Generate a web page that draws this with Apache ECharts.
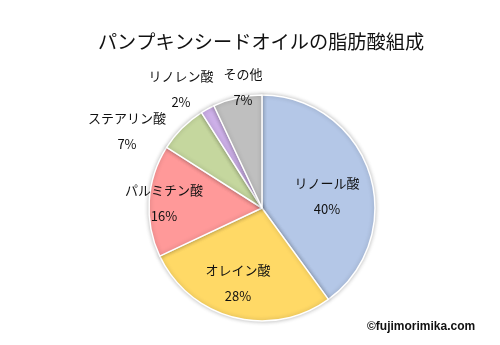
<!DOCTYPE html>
<html>
<head>
<meta charset="utf-8">
<script src="https://cdn.jsdelivr.net/npm/echarts@6/dist/echarts.min.js"></script>
<style>
  html, body { margin: 0; padding: 0; background: #fff; }
  #chart { width: 500px; height: 345px; }
</style>
</head>
<body>
<div id="chart"></div>
<script>
// Fatty acid composition of pumpkin seed oil (%)
const names = ['リノール酸', 'オレイン酸', 'パルミチン酸', 'ステアリン酸', 'リノレン酸', 'その他'];
const shares = [40, 28, 16, 7, 2, 7];
const sliceColors = ['#B4C7E7', '#FFD966', '#FF9999', '#C5D79E', '#CDB0E8', '#BFBFBF'];

// Centre point of each label block (name above, percentage below)
const labelSpots = [[327, 196], [238, 283], [164, 203], [127, 131], [181, 89], [243, 87]];

const chart = echarts.init(document.getElementById('chart'), null, { renderer: 'canvas' });
const FONT = '"Noto Sans CJK JP", "Noto Sans", sans-serif';

chart.setOption({
  animation: false,
  backgroundColor: '#ffffff',
  title: {
    text: 'パンプキンシードオイルの脂肪酸組成',
    left: 256,
    top: 27,
    textAlign: 'center',
    textStyle: { fontFamily: FONT, fontSize: 19.2, fontWeight: 'normal', color: '#111' }
  },
  graphic: [{
    type: 'text',
    left: 367,
    top: 321,
    style: { text: '©fujimorimika.com', font: 'bold 12px "Liberation Sans", sans-serif', fill: '#111' }
  }],
  series: [{
    type: 'pie',
    center: [262, 208],
    radius: [0, 113],
    startAngle: 90,
    clockwise: true,
    data: names.map((n, i) => ({ name: n, value: shares[i], itemStyle: { color: sliceColors[i] } })),
    itemStyle: {
      borderColor: '#ffffff',
      borderWidth: 1.5,
      shadowBlur: 4,
      shadowColor: 'rgba(0,0,0,0.25)',
      shadowOffsetX: 0,
      shadowOffsetY: 0
    },
    label: {
      show: true,
      position: 'inside',
      formatter: '{b}\n{c}%',
      fontFamily: FONT,
      fontSize: 13,
      lineHeight: 26,
      color: '#111',
      align: 'center',
      verticalAlign: 'middle'
    },
    labelLine: { show: false },
    labelLayout: function (p) {
      const s = labelSpots[p.dataIndex];
      return { x: s[0], y: s[1], align: 'center', verticalAlign: 'middle' };
    },
    emphasis: { disabled: true }
  }]
});
</script>
</body>
</html>
